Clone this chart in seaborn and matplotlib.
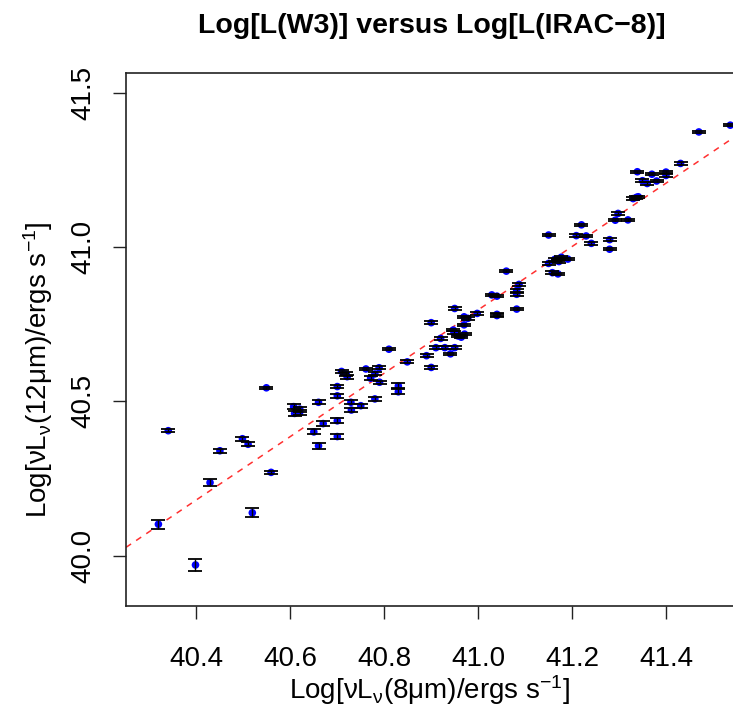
import numpy as np
import pandas as pd
import matplotlib
matplotlib.use('Agg')
import matplotlib.pyplot as plt
import seaborn as sns

# values
log_l8 = [40.319, 40.340, 40.398, 40.429, 40.450, 40.498, 40.510, 40.519, 40.549, 40.559,
          40.607, 40.620, 40.609, 40.620, 40.650, 40.660, 40.660, 40.670, 40.700, 40.700,
          40.700, 40.700, 40.709, 40.719, 40.721, 40.729, 40.730, 40.750, 40.761, 40.771,
          40.780, 40.789, 40.790, 40.780, 40.810, 40.830, 40.830, 40.849, 40.890, 40.900,
          40.900, 40.920, 40.910, 40.929, 40.950, 40.941, 40.950, 40.947, 40.949, 40.970,
          40.978, 40.970, 40.957, 40.964, 40.971, 40.998, 41.029, 41.040, 41.060, 41.082,
          41.082, 41.040, 41.040, 41.082, 41.087, 41.150, 41.150, 41.163, 41.170, 41.177,
          41.191, 41.172, 41.158, 41.170, 41.220, 41.209, 41.230, 41.241, 41.280, 41.280,
          41.298, 41.292, 41.319, 41.330, 41.337, 41.341, 41.339, 41.350, 41.360, 41.370,
          41.380, 41.400, 41.400, 41.431, 41.470, 41.537]
log_l12 = [40.102, 40.405, 39.970, 40.237, 40.340, 40.379, 40.361, 40.139, 40.544, 40.270,
           40.483, 40.475, 40.461, 40.465, 40.401, 40.497, 40.356, 40.428, 40.548, 40.518,
           40.437, 40.386, 40.597, 40.588, 40.580, 40.497, 40.472, 40.486, 40.605, 40.575,
           40.589, 40.609, 40.562, 40.508, 40.669, 40.550, 40.531, 40.628, 40.648, 40.755,
           40.610, 40.704, 40.674, 40.674, 40.674, 40.654, 40.801, 40.731, 40.723, 40.774,
           40.769, 40.748, 40.712, 40.708, 40.718, 40.785, 40.845, 40.841, 40.922, 40.859,
           40.847, 40.782, 40.778, 40.799, 40.879, 41.039, 40.947, 40.960, 40.958, 40.967,
           40.961, 40.953, 40.917, 40.913, 41.072, 41.037, 41.036, 41.012, 41.024, 40.993,
           41.109, 41.087, 41.088, 41.157, 41.161, 41.163, 41.244, 41.215, 41.206, 41.236,
           41.214, 41.243, 41.232, 41.271, 41.373, 41.395]
err12 = [0.015, 0.004, 0.019, 0.011, 0.007, 0.006, 0.007, 0.014, 0.004, 0.006,
         0.008, 0.008, 0.008, 0.008, 0.008, 0.006, 0.009, 0.008, 0.005, 0.006,
         0.008, 0.009, 0.005, 0.006, 0.006, 0.006, 0.008, 0.007, 0.004, 0.006,
         0.005, 0.005, 0.005, 0.006, 0.004, 0.008, 0.008, 0.005, 0.005, 0.004,
         0.006, 0.004, 0.004, 0.004, 0.004, 0.004, 0.004, 0.004, 0.004, 0.004,
         0.004, 0.004, 0.004, 0.004, 0.004, 0.004, 0.004, 0.004, 0.004, 0.004,
         0.004, 0.004, 0.004, 0.004, 0.004, 0.004, 0.004, 0.004, 0.004, 0.004,
         0.004, 0.004, 0.004, 0.004, 0.004, 0.004, 0.004, 0.004, 0.004, 0.004,
         0.004, 0.004, 0.004, 0.004, 0.004, 0.004, 0.004, 0.004, 0.004, 0.004,
         0.004, 0.004, 0.004, 0.004, 0.004, 0.004]

# fitted line y = a + b*x
fit_a = -1.2695
fit_b = 1.026

x_ticks = [40.4, 40.6, 40.8, 41.0, 41.2, 41.4]
y_ticks = [40.0, 40.5, 41.0, 41.5]

df = pd.DataFrame({'l8': log_l8, 'l12': log_l12, 'err': err12})

sns.set_theme(style='white')
plt.rcParams['font.family'] = ['Liberation Sans', 'DejaVu Sans']
plt.rcParams['text.color'] = 'black'
plt.rcParams['mathtext.fontset'] = 'custom'
plt.rcParams['mathtext.rm'] = 'Liberation Sans'
plt.rcParams['mathtext.it'] = 'Liberation Sans'
plt.rcParams['mathtext.default'] = 'regular'

fig = plt.figure(figsize=(7.33, 7.09), dpi=100)
ax = fig.add_axes([126/733, 103/709, 609/733, 533/709])

xmin, xmax = 40.25, 41.547
ymin, ymax = 39.837, 41.564

xs = np.array([xmin, xmax])
ax.plot(xs, fit_a + fit_b * xs, color='#ff3030', lw=1.1, ls=(0, (4, 4)), zorder=1)

sns.scatterplot(data=df, x='l8', y='l12', color='#0000ff', s=30, edgecolor='none',
                ax=ax, zorder=2, legend=False)
ax.errorbar(df['l8'], df['l12'], yerr=df['err'], fmt='none', ecolor='black',
            elinewidth=1.0, capsize=5, capthick=1.3, zorder=3)

ax.set_xlim(xmin, xmax)
ax.set_ylim(ymin, ymax)
ax.set_xticks(x_ticks)
ax.set_xticklabels([f'{v:.1f}' for v in x_ticks])
ax.set_yticks(y_ticks)
ax.set_yticklabels([f'{v:.1f}' for v in y_ticks], rotation=90, va='center')
ax.tick_params(axis='both', direction='out', length=9.5, width=1.0, color='#222222',
               labelsize=20, labelcolor='black', bottom=True, left=True)
ax.tick_params(axis='x', pad=19)
ax.tick_params(axis='y', pad=12)
for side in ['left', 'top', 'bottom']:
    ax.spines[side].set_color('#222222')
    ax.spines[side].set_linewidth(1.2)
ax.spines['right'].set_visible(False)
ax.set_xlabel('')
ax.set_ylabel('')

fig.text(430/733, 1 - 699/709, r'Log[νL$_{ν}$(8μm)/ergs s$^{-1}$]', ha='center',
         va='baseline', fontsize=20)
fig.text(38/733, 0.5 * (73 + 606) / 709, r'Log[νL$_{ν}$(12μm)/ergs s$^{-1}$]',
         ha='center', va='center', rotation=90, fontsize=20)
fig.text(432/733, 1 - 33/709, 'Log[L(W3)] versus Log[L(IRAC\u22128)]', ha='center',
         va='baseline', fontsize=20.5, fontweight='bold')

fig.savefig('out.png', dpi=100)
